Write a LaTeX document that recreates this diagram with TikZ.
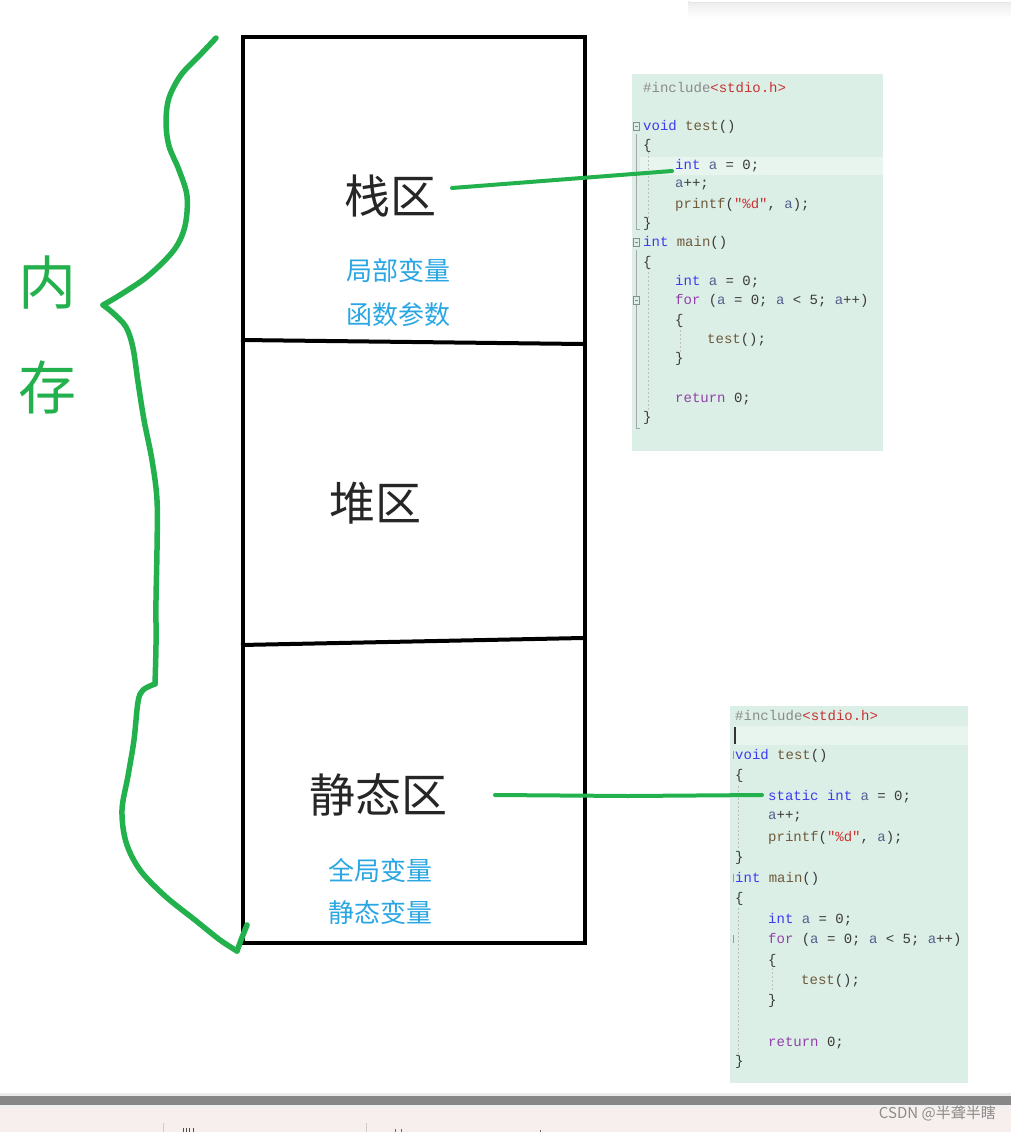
\documentclass[tikz,border=0pt]{standalone}
\usepackage{fontspec}
\setmainfont{Liberation Sans}
\setmonofont{Liberation Mono}
\newfontfamily\cjk{Noto Sans CJK SC}
\definecolor{brgreen}{HTML}{22B14C}
\definecolor{lblue}{HTML}{2AA7E3}
\definecolor{codebg}{HTML}{DCEFE6}
\definecolor{codehl}{HTML}{E8F4EE}
\definecolor{ckwc}{HTML}{3B3BF0}
\definecolor{cfnc}{HTML}{6E5A3C}
\definecolor{cvarc}{HTML}{55608E}
\definecolor{cpurc}{HTML}{9040A8}
\definecolor{cstrc}{HTML}{C83232}
\definecolor{cincc}{HTML}{8A8A8A}
\definecolor{cdark}{HTML}{3A3A3A}
\definecolor{footbg}{HTML}{F7EFED}
\newcommand\ckw[1]{\textcolor{ckwc}{#1}}
\newcommand\cfn[1]{\textcolor{cfnc}{#1}}
\newcommand\cvr[1]{\textcolor{cvarc}{#1}}
\newcommand\cpr[1]{\textcolor{cpurc}{#1}}
\newcommand\cst[1]{\textcolor{cstrc}{#1}}
\tikzset{
  memline/.style={line width=4pt, black},
  bigtitle/.style={font=\cjk\fontsize{46}{50}\selectfont, text=black!85, inner sep=0pt},
  subtitle/.style={font=\cjk\fontsize{26}{30}\selectfont, text=lblue, inner sep=0pt},
  memlabel/.style={font=\cjk\fontsize{58}{62}\selectfont, text=brgreen, inner sep=0pt},
  greenline/.style={line width=4pt, brgreen, line cap=round},
  bracepath/.style={line width=5.5pt, brgreen, line cap=round, line join=round},
  codebox/.style={fill=codebg, draw=none, anchor=north west, inner sep=0pt},
  codeline/.style={anchor=west, inner sep=0pt, font=\ttfamily\fontsize{14}{16}\selectfont, text=cdark},
  guide/.style={draw=black!35, line width=0.6pt},
  dguide/.style={draw=black!25, line width=0.6pt, dash pattern=on 2pt off 2pt},
}
\begin{document}
\begin{tikzpicture}[x=1pt,y=-1pt]
\useasboundingbox (0,0) rectangle (1011,1132);
\fill[white] (0,0) rectangle (1011,1132);

% top-right shadow of a panel
\shade[top color=black!7, bottom color=white] (688,2) rectangle (1011,18);
\fill[white] (690,0) rectangle (1011,2.5);
\draw[black!10, line width=0.5pt] (690,2.5) -- (1011,2.5);

% memory block
\draw[memline] (243,37) rectangle (585,943);
\draw[memline] (241,340) -- (583,344);
\draw[memline] (241,645) -- (583,638);

\node[bigtitle] (stack) at (390,196) {栈区};
\node[subtitle] (stk1) at (398,271) {局部变量};
\node[subtitle] (stk2) at (398,315) {函数参数};
\node[bigtitle] (heap) at (375,503) {堆区};
\node[bigtitle] (static) at (378,795) {静态区};
\node[subtitle] (st1) at (380,870) {全局变量};
\node[subtitle] (st2) at (380,913) {静态变量};

\node[memlabel] (nei) at (48,283) {内};
\node[memlabel] (cun) at (48,387) {存};

% brace
\draw[bracepath] plot[smooth, tension=0.55] coordinates {
 (216,38) (200,55) (181,75) (169,98) (166,122) (169,146) (179,170) (187,196)
 (185,226) (174,250) (148,276) (120,295) (103,305)};
\draw[bracepath] plot[smooth, tension=0.55] coordinates {
 (103,305) (113,313) (126,327) (133,348) (138,382) (144,420) (152,460) (157,500)
 (157,550) (156,600) (156,645) (155,684)};
\draw[bracepath] plot[smooth, tension=0.55] coordinates {
 (155,684) (143,690) (138,702) (134,740) (128,776) (122,810) (126,842) (140,870)
 (165,896) (195,920) (220,940) (237,951)};
\draw[bracepath] (237,951) -- (241,940) -- (247,925);

% code box 1
\node[codebox, minimum width=251pt, minimum height=377pt] (code1) at (632,74) {};
\fill[codehl] (640,157) rectangle (883,175);
\draw[guide] (636,134) -- (636,229);
\draw[guide] (636,250) -- (636,428);
\draw[guide] (636,229) -- (640,229);
\draw[guide] (636,428) -- (640,428);
\foreach \yy in {127,243,301}{
  \draw[black!45, line width=0.6pt, fill=codebg] (633,\yy-5) rectangle (639,\yy+3);
  \draw[black!45, line width=0.6pt] (634.5,\yy-1) -- (637.5,\yy-1);
}
\draw[dguide] (648,152) -- (648,218);
\draw[dguide] (648,268) -- (648,412);
\draw[dguide] (680,326) -- (680,352);

\node[codeline] (a1) at (643,88) {\textcolor{cincc}{\#include}\cst{<stdio.h>}};
\node[codeline] (a2) at (643,127) {\ckw{void} \cfn{test}()};
\node[codeline] (a3) at (643,146) {\{};
\node[codeline] (a4) at (675,166) {\ckw{int} \cvr{a} = 0;};
\node[codeline] (a5) at (675,185) {\cvr{a}++;};
\node[codeline] (a6) at (675,205) {\cfn{printf}(\cst{"\%d"}, \cvr{a});};
\node[codeline] (a7) at (643,224) {\}};
\node[codeline] (a8) at (643,243) {\ckw{int} \cfn{main}()};
\node[codeline] (a9) at (643,263) {\{};
\node[codeline] (a10) at (675,282) {\ckw{int} \cvr{a} = 0;};
\node[codeline] (a11) at (675,301) {\cpr{for} (\cvr{a} = 0; \cvr{a} < 5; \cvr{a}++)};
\node[codeline] (a12) at (675,321) {\{};
\node[codeline] (a13) at (707,340) {\cfn{test}();};
\node[codeline] (a14) at (675,359) {\}};
\node[codeline] (a15) at (675,399) {\cpr{return} 0;};
\node[codeline] (a16) at (643,418) {\}};

% code box 2
\node[codebox, minimum width=238pt, minimum height=377pt] (code2) at (730,706) {};
\fill[codehl] (735,726) rectangle (968,745);
\draw[black!80, line width=1.5pt] (735,727) -- (735,744);
\draw[dguide] (738,786) -- (738,850);
\draw[dguide] (738,908) -- (738,1055);
\draw[dguide] (772,968) -- (772,990);
\foreach \yy in {756,879,940}{
  \draw[black!40, line width=0.6pt] (733,\yy-5) -- (733,\yy+3);
}

\node[codeline] (b1) at (735,716) {\textcolor{cincc}{\#include}\cst{<stdio.h>}};
\node[codeline] (b2) at (735,756) {\ckw{void} \cfn{test}()};
\node[codeline] (b3) at (735,776) {\{};
\node[codeline] (b4) at (768,797) {\ckw{static} \ckw{int} \cvr{a} = 0;};
\node[codeline] (b5) at (768,817) {\cvr{a}++;};
\node[codeline] (b6) at (768,838) {\cfn{printf}(\cst{"\%d"}, \cvr{a});};
\node[codeline] (b7) at (735,858) {\}};
\node[codeline] (b8) at (735,879) {\ckw{int} \cfn{main}()};
\node[codeline] (b9) at (735,899) {\{};
\node[codeline] (b10) at (768,920) {\ckw{int} \cvr{a} = 0;};
\node[codeline] (b11) at (768,940) {\cpr{for} (\cvr{a} = 0; \cvr{a} < 5; \cvr{a}++)};
\node[codeline] (b12) at (768,961) {\{};
\node[codeline] (b13) at (801,981) {\cfn{test}();};
\node[codeline] (b14) at (768,1001) {\}};
\node[codeline] (b15) at (768,1043) {\cpr{return} 0;};
\node[codeline] (b16) at (735,1062) {\}};

% connectors
\coordinate (s1) at (452,188);
\coordinate (s2) at (495,795);
\draw[greenline] (s1) -- ([xshift=-3pt,yshift=-5pt]a4.west);
\draw[greenline] (s2) -- (628,796) -- ([xshift=-6pt,yshift=2pt]b4.west);

% bottom bar
\fill[black!8] (0,1093) rectangle (1011,1096);
\fill[black!47] (0,1096) rectangle (1011,1105);
\fill[black!6] (0,1105) rectangle (1011,1108);
\fill[footbg] (0,1108) rectangle (1011,1132);
\draw[black!20, line width=1pt] (163,1123) -- (163,1132);
\draw[black!20, line width=1pt] (366,1123) -- (366,1132);
\foreach \xx in {183,186,189,193}{\draw[black!70, line width=0.8pt] (\xx,1128) -- (\xx,1132);}
\draw[black!60, line width=0.8pt] (395,1129) -- (395,1132);
\draw[black!60, line width=0.8pt] (401,1129) -- (401,1132);
\draw[black!60, line width=0.8pt] (540,1130) -- (540,1132);
\node[anchor=east, inner sep=0pt, text=black!45, font=\cjk\fontsize{15}{17}\selectfont] (wm) at (996,1113) {CSDN @半聋半瞎};
\end{tikzpicture}
\end{document}
